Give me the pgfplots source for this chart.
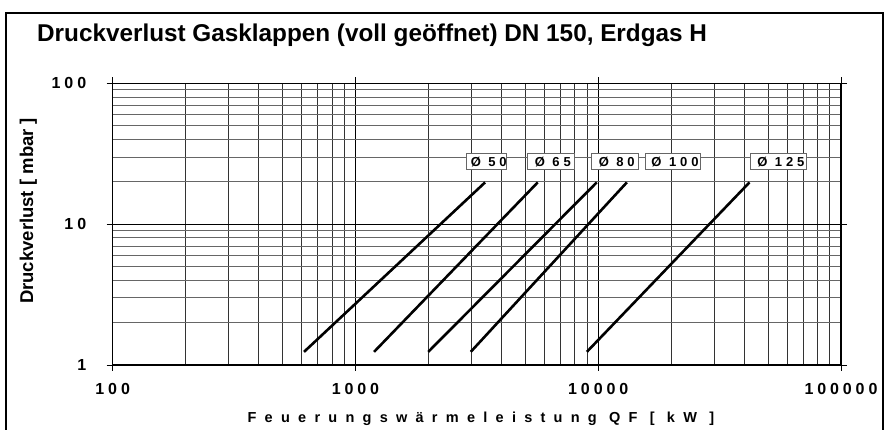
\documentclass[border=0pt]{standalone}
\usepackage{pgfplots}
\pgfplotsset{compat=1.18}
\usepackage{fontspec}
\setmainfont{Liberation Sans}
\newfontfamily\spaced[LetterSpace=57]{Liberation Sans}
\newfontfamily\boxf[LetterSpace=30]{Liberation Sans}
\def\g{\kern3.9pt}
\def\bk{\kern3.9pt}
\begin{document}
\begin{tikzpicture}[x=1pt,y=1pt]
\path[use as bounding box] (0,0) rectangle (887,429);
\draw[line width=2pt] (6,-5) -- (6,416) -- (883,416) -- (883,-5);
\node[anchor=base west, font=\fontsize{24.3}{24.3}\selectfont\bfseries, inner sep=0] at (37,387) {Druckverlust Gasklappen (voll geöffnet) DN 150, Erdgas H};
\begin{axis}[
  at={(112.7pt,64pt)}, anchor=south west,
  scale only axis, width=728.3pt, height=281.7pt,
  xmode=log, ymode=log, xmin=100, xmax=100000, ymin=1, ymax=100,
  xtick={100,1000,10000,100000},
  xticklabels={1\g0\g0,1\g0\g0\g0,1\g0\g0\g0\g0,1\g0\g0\g0\g0\g0},
  ytick={1,10,100},
  yticklabels={1,1\g0,1\g0\g0},
  minor xtick={200,300,400,500,600,700,800,900,2000,3000,4000,5000,6000,7000,8000,9000,20000,30000,40000,50000,60000,70000,80000,90000},
  minor ytick={2,3,4,5,6,7,8,9,20,30,40,50,60,70,80,90},
  grid=both,
  major x grid style={black, line width=1.4pt},
  major y grid style={black, line width=0.9pt},
  minor x grid style={black!80, line width=0.8pt},
  minor y grid style={black!60, line width=0.8pt},
  axis line style={black, line width=1.3pt},
  tick align=outside, major tick length=6pt, minor tick length=0pt,
  tick style={black, line width=1pt},
  ticklabel style={font=\fontsize{16}{16}\selectfont\bfseries},
  xticklabel style={yshift=-9pt},
  yticklabel style={xshift=-17pt},
  xlabel={\spaced\bfseries \kern8pt Feuerungswärmeleistung QF [ kW ]},
  xlabel style={font=\fontsize{14.5}{14.5}\selectfont, at={(axis description cs:0.5,-0.192)}, anchor=center},
  ylabel={\bfseries Druckverlust [ mbar ]},
  ylabel style={font=\fontsize{18.5}{18.5}\selectfont, at={(axis description cs:-0.116,0.547)}, anchor=center, rotate=0},
  clip=true,
]
\addplot[black, line width=2.6pt] coordinates {(614,1.24) (3420,19.8)};
\addplot[black, line width=2.6pt] coordinates {(1193,1.24) (5634,19.8)};
\addplot[black, line width=2.6pt] coordinates {(1995,1.24) (9862,19.8)};
\addplot[black, line width=2.6pt] coordinates {(2985,1.24) (13120,19.8)};
\addplot[black, line width=2.6pt] coordinates {(8977,1.24) (41980,19.8)};
\begin{scope}[every node/.style={draw=black!60, fill=white, line width=0.9pt, minimum height=16pt, inner sep=0pt, font=\fontsize{13}{13}\selectfont\boxf\bfseries}]
\node[minimum width=40pt] at (axis cs:3475,27.8) {\bk Ø 50};
\node[minimum width=46.7pt] at (axis cs:6383,27.8) {\bk Ø 65};
\node[minimum width=46.7pt] at (axis cs:11700,27.8) {\bk Ø 80};
\node[minimum width=55.7pt] at (axis cs:20330,27.8) {\bk Ø 100};
\node[minimum width=56pt] at (axis cs:55470,27.8) {\bk Ø 125};
\end{scope}
\end{axis}
\end{tikzpicture}
\end{document}
